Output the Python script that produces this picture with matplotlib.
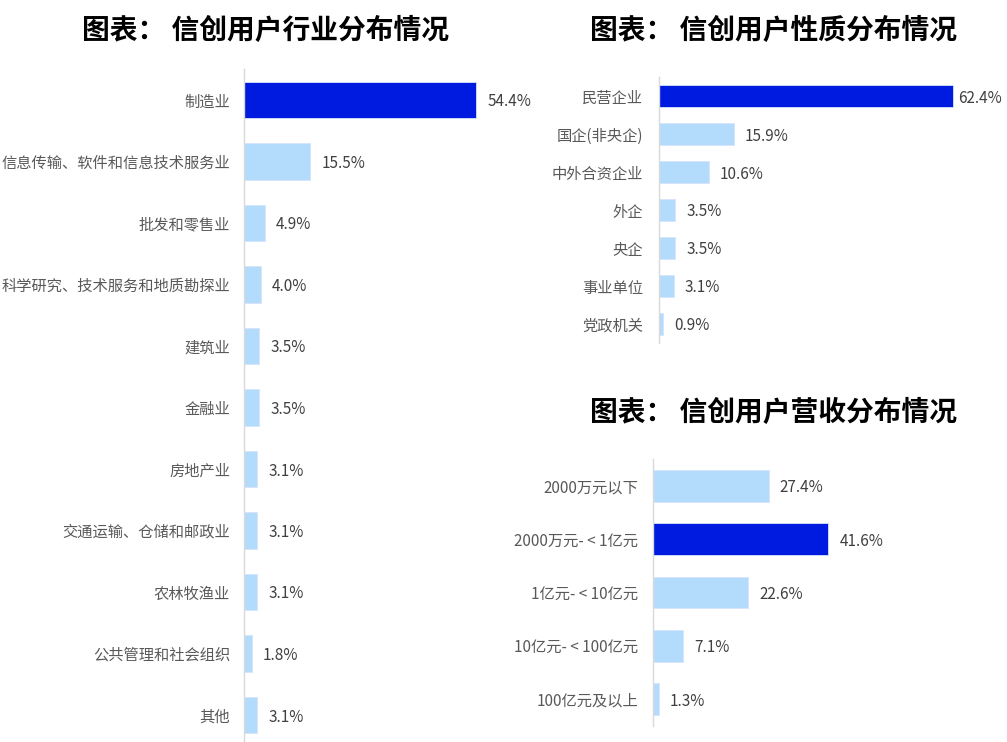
import matplotlib
matplotlib.use("Agg")
import matplotlib.pyplot as plt

plt.rcParams['font.family'] = ['Noto Sans CJK SC', 'DejaVu Sans']

# 数据
hy_labels = ['制造业', '信息传输、软件和信息技术服务业', '批发和零售业', '科学研究、技术服务和地质勘探业',
             '建筑业', '金融业', '房地产业', '交通运输、仓储和邮政业', '农林牧渔业', '公共管理和社会组织', '其他']
hy_values = [54.4, 15.5, 4.9, 4.0, 3.5, 3.5, 3.1, 3.1, 3.1, 1.8, 3.1]

xz_labels = ['民营企业', '国企(非央企)', '中外合资企业', '外企', '央企', '事业单位', '党政机关']
xz_values = [62.4, 15.9, 10.6, 3.5, 3.5, 3.1, 0.9]

ys_labels = ['2000万元以下', '2000万元- < 1亿元', '1亿元- < 10亿元', '10亿元- < 100亿元', '100亿元及以上']
ys_values = [27.4, 41.6, 22.6, 7.1, 1.3]

DARK = '#001be0'
LIGHT = '#b3dbfc'
W, H = 1007, 742


def barras(rect, labels, values, highlight, xmax, pad, off_hl=8):
    ax = fig.add_axes([rect[0] / W, rect[1] / H, rect[2] / W, rect[3] / H])
    n = len(labels)
    pos = list(range(n))
    colores = [DARK if i == highlight else LIGHT for i in range(n)]
    ax.barh(pos, values, height=0.6, color=colores, edgecolor='#d6e4fb', linewidth=0.6)
    ax.set_ylim(n - 0.5, -0.5)
    ax.set_xlim(0, xmax)
    ax.set_yticks(pos)
    ax.set_yticklabels(labels, fontsize=11, color='#595959')
    ax.tick_params(axis='y', length=0, pad=pad)
    ax.set_xticks([])
    for s in ['top', 'right', 'bottom']:
        ax.spines[s].set_visible(False)
    ax.spines['left'].set_color('#d9d9d9')
    ax.spines['left'].set_linewidth(1)
    for i, v in enumerate(values):
        off = off_hl if i == highlight else 8
        ax.annotate(f'{v}%', (v, i), xytext=(off, 0), textcoords='offset points',
                    va='center_baseline', ha='left', fontsize=11, color='#404040')
    ax.patch.set_alpha(0)
    return ax


fig = plt.figure(figsize=(W / 100, H / 100), dpi=100)

barras((244, -3.75, 256, 676.5), hy_labels, hy_values, 0, 256 / 4.265, 10)
barras((659, 399, 348, 266), xz_labels, xz_values, 0, 348 / 4.707, 11.5, off_hl=4)
barras((653.3, 16.3, 353.7, 266.4), ys_labels, ys_values, 1, 353.7 / 4.207, 11)

fig.text(266 / W, 1 - 31 / H, '图表： 信创用户行业分布情况', fontsize=20, fontweight='bold',
         ha='center', va='center', color='black')
fig.text(774 / W, 1 - 31 / H, '图表： 信创用户性质分布情况', fontsize=20, fontweight='bold',
         ha='center', va='center', color='black')
fig.text(774 / W, 1 - 413 / H, '图表： 信创用户营收分布情况', fontsize=20, fontweight='bold',
         ha='center', va='center', color='black')

fig.savefig('out.png', dpi=100, facecolor='white')
